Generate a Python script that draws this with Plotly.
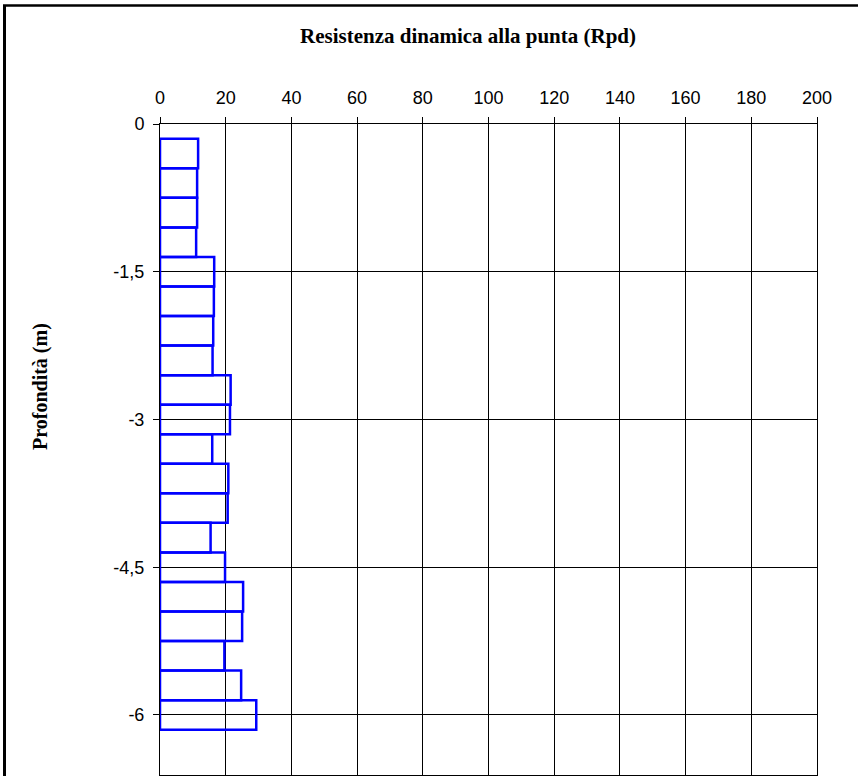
import plotly.graph_objects as go

# Data
depth_m = [0.3, 0.6, 0.9, 1.2, 1.5, 1.8, 2.1, 2.4, 2.7, 3.0,
           3.3, 3.6, 3.9, 4.2, 4.5, 4.8, 5.1, 5.4, 5.7, 6.0]
rpd = [11.6, 11.3, 11.3, 11.0, 16.5, 16.4, 16.2, 16.0, 21.5, 21.3,
       15.9, 20.8, 20.6, 15.4, 19.8, 25.3, 25.0, 19.6, 24.7, 29.3]
layer_thickness = 0.3
y_tick_vals = [0, -1.5, -3, -4.5, -6]
y_tick_text = ["0", "-1,5", "-3", "-4,5", "-6"]
x_tick_vals = [0, 20, 40, 60, 80, 100, 120, 140, 160, 180, 200]

W, H = 858, 776
L, R, T, B = 160, 41, 124, 1
pw = W - L - R
ph = H - T - B

fig = go.Figure()
fig.add_trace(go.Bar(
    x=rpd,
    y=[-d for d in depth_m],
    base=0,
    orientation="h",
    width=layer_thickness,
    marker=dict(color="rgba(0,0,0,0)", line=dict(color="#0000FF", width=2.5)),
    showlegend=False,
))

def px_to_paper_x(px):
    return (px - L) / pw

def px_to_paper_y(py):
    return (H - B - py) / ph

fig.update_layout(
    width=W, height=H,
    margin=dict(l=L, r=R, t=T, b=B, pad=0),
    paper_bgcolor="white",
    plot_bgcolor="white",
    separators=",.",
    font=dict(family="Liberation Sans, Arial", size=18, color="black"),
    xaxis=dict(
        side="top",
        range=[0, 200],
        tickvals=x_tick_vals,
        ticks="outside", ticklen=6, tickcolor="black", tickwidth=1,
        showline=True, linecolor="black", linewidth=1, mirror=True,
        showgrid=True, gridcolor="black", gridwidth=1,
        zeroline=False,
        ticklabelstandoff=6,
        tickfont=dict(size=18),
    ),
    yaxis=dict(
        range=[-6.61, 0],
        tickvals=y_tick_vals,
        ticktext=y_tick_text,
        ticks="outside", ticklen=6, tickcolor="black", tickwidth=1,
        showline=True, linecolor="black", linewidth=1, mirror=True,
        showgrid=True, gridcolor="black", gridwidth=1,
        zeroline=False,
        ticklabelstandoff=5,
        tickfont=dict(size=18),
    ),
    shapes=[
        dict(type="line", xref="paper", yref="paper",
             x0=px_to_paper_x(4.5), x1=px_to_paper_x(4.5),
             y0=px_to_paper_y(5.5), y1=px_to_paper_y(H + 5),
             line=dict(color="black", width=3)),
        dict(type="line", xref="paper", yref="paper",
             x0=px_to_paper_x(3), x1=px_to_paper_x(W + 5),
             y0=px_to_paper_y(5.5), y1=px_to_paper_y(5.5),
             line=dict(color="black", width=2.5)),
    ],
    annotations=[
        dict(text="<b>Resistenza dinamica alla punta (Rpd)</b>",
             xref="paper", yref="paper",
             x=px_to_paper_x(468), y=px_to_paper_y(36),
             xanchor="center", yanchor="middle", showarrow=False,
             font=dict(family="Liberation Serif, Times New Roman", size=21, color="black")),
        dict(text="<b>Profondità (m)</b>",
             xref="paper", yref="paper",
             x=px_to_paper_x(40), y=px_to_paper_y(387),
             xanchor="center", yanchor="middle", showarrow=False, textangle=-90,
             font=dict(family="Liberation Serif, Times New Roman", size=20, color="black")),
    ],
)

fig.write_html("out.html", config={"displayModeBar": False},
               post_script="document.body.style.margin='0';")
